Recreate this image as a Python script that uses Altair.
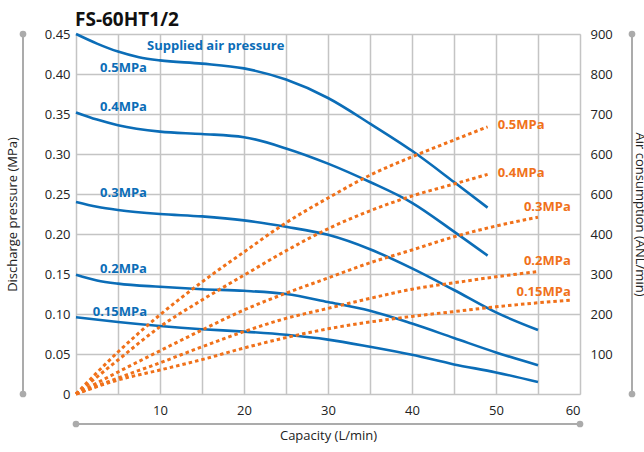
import altair as alt
import pandas as pd

# ---------------- data ----------------
# Discharge pressure curves (left axis, MPa) per supplied air pressure
b05_x = [0, 2.5, 5, 7.5, 10, 15, 20, 25, 30, 35, 40, 45, 49]
b05_y = [0.450, 0.438, 0.428, 0.421, 0.417, 0.413, 0.407, 0.393, 0.370, 0.338, 0.304, 0.265, 0.233]
b04_x = [0, 2.5, 5, 10, 15, 20, 25, 30, 35, 40, 45, 49]
b04_y = [0.352, 0.343, 0.336, 0.328, 0.325, 0.321, 0.307, 0.288, 0.265, 0.239, 0.203, 0.173]
b03_x = [0, 2.5, 5, 10, 15, 20, 25, 30, 35, 40, 45, 50, 55]
b03_y = [0.240, 0.234, 0.230, 0.225, 0.222, 0.217, 0.209, 0.199, 0.181, 0.157, 0.130, 0.102, 0.080]
b02_x = [0, 2.5, 5, 10, 15, 20, 25, 30, 35, 40, 45, 50, 55]
b02_y = [0.149, 0.142, 0.138, 0.134, 0.131, 0.129, 0.125, 0.115, 0.104, 0.088, 0.070, 0.052, 0.036]
b015_x = [0, 5, 10, 15, 20, 25, 30, 35, 40, 45, 50, 55]
b015_y = [0.096, 0.090, 0.085, 0.081, 0.078, 0.074, 0.068, 0.059, 0.049, 0.037, 0.027, 0.015]

# Air consumption curves (right axis, ANL/min)
o05_x = [0, 5, 10, 15, 20, 25, 30, 35, 40, 45, 49]
o05_y = [0, 105, 198, 280, 355, 428, 490, 547, 593, 635, 668]
o04_x = [0, 5, 10, 15, 20, 25, 30, 35, 40, 45, 49]
o04_y = [0, 85, 168, 235, 297, 358, 413, 458, 495, 525, 549]
o03_x = [0, 5, 10, 15, 20, 25, 30, 35, 40, 45, 50, 55]
o03_y = [0, 55, 108, 160, 210, 252, 290, 328, 360, 393, 420, 442]
o02_x = [0, 5, 10, 15, 20, 25, 30, 35, 40, 45, 50, 55]
o02_y = [0, 40, 78, 118, 156, 189, 214, 239, 262, 278, 293, 306]
o015_x = [0, 5, 10, 15, 20, 25, 30, 35, 40, 45, 50, 55, 59]
o015_y = [0, 35, 60, 86, 115, 141, 163, 180, 194, 206, 218, 228, 235]

blue_labels = ["0.5MPa", "0.4MPa", "0.3MPa", "0.2MPa", "0.15MPa"]
blue_label_x = [8.45, 8.45, 8.45, 8.45, 8.45]
blue_label_y = [0.4075, 0.359, 0.251, 0.156, 0.1025]

orange_labels = ["0.5MPa", "0.4MPa", "0.3MPa", "0.2MPa", "0.15MPa"]
orange_label_x = [50.2, 50.2, 58.9, 58.9, 58.9]
orange_label_y = [672, 553, 468, 332, 254]
orange_label_align = ["left", "left", "right", "right", "right"]

x_grid_values = [0, 5, 10, 15, 20, 25, 30, 35, 40, 45, 50, 55, 60]
y_left_values = [0, 0.05, 0.10, 0.15, 0.20, 0.25, 0.30, 0.35, 0.40, 0.45]
y_right_values = [100, 200, 300, 400, 500, 600, 700, 800, 900]

TITLE = "FS-60HT1/2"
FONT = "Open Sans"
BLUE = "#0b6db7"
ORANGE = "#f0711a"
GRID = "#c4c4c4"
DECO = "#ababab"

# ---------------- frames ----------------
def long(series):
    rows = []
    for name, xs, ys in series:
        for a, b in zip(xs, ys):
            rows.append({"series": name, "x": a, "y": b})
    return pd.DataFrame(rows)

blue_df = long([("0.5", b05_x, b05_y), ("0.4", b04_x, b04_y), ("0.3", b03_x, b03_y),
                ("0.2", b02_x, b02_y), ("0.15", b015_x, b015_y)])
orange_df = long([("0.5", o05_x, o05_y), ("0.4", o04_x, o04_y), ("0.3", o03_x, o03_y),
                  ("0.2", o02_x, o02_y), ("0.15", o015_x, o015_y)])
blab_df = pd.DataFrame({"x": blue_label_x, "y": blue_label_y, "t": blue_labels})
olab_df = pd.DataFrame({"x": orange_label_x, "y": orange_label_y, "t": orange_labels,
                        "a": orange_label_align})
sup_df = pd.DataFrame({"x": [8.45], "y": [0.435], "t": ["Supplied air pressure"]})

xscale = alt.Scale(domain=[0, 60], nice=False, zero=False)
yl_scale = alt.Scale(domain=[0, 0.45], nice=False)
yr_scale = alt.Scale(domain=[0, 900], nice=False)

common = dict(labelFontSize=13, titleFontSize=13, labelFont=FONT, titleFont=FONT,
              labelColor="#222", titleColor="#222", titleFontWeight="normal",
              labelOverlap=False, labelBound=False, ticks=False, domain=False)

x_axis = alt.Axis(values=x_grid_values, title="Capacity (L/min)",
                  labelExpr="datum.value % 10 == 0 && datum.value > 0 ? datum.label : ''",
                  grid=True, gridColor=GRID, gridWidth=1.5,
                  labelPadding=10, titlePadding=12, **common)

yl_axis = alt.Axis(values=y_left_values, title="Discharge pressure (MPa)",
                   labelExpr="datum.value == 0 ? '0' : format(datum.value, '.2f')",
                   grid=True, gridColor=GRID, gridWidth=1.5,
                   labelPadding=6, titlePadding=25, **common)

yr_axis = alt.Axis(values=y_right_values, title="Air consumption (ANL/min)", orient="right",
                   labelExpr="datum.value == 500 ? '600' : format(datum.value, 'd')",
                   grid=False, labelPadding=10, titlePadding=20, **common)

blue = alt.Chart(blue_df).mark_line(color=BLUE, strokeWidth=2.6, interpolate="monotone").encode(
    x=alt.X("x:Q", scale=xscale, axis=x_axis),
    y=alt.Y("y:Q", scale=yl_scale, axis=yl_axis),
    detail="series:N",
)
blue_text = alt.Chart(blab_df).mark_text(color=BLUE, font=FONT, fontSize=13, fontWeight="bold",
                                         align="right", baseline="middle").encode(
    x=alt.X("x:Q", scale=xscale, axis=x_axis), y=alt.Y("y:Q", scale=yl_scale, axis=yl_axis), text="t:N")
sup_text = alt.Chart(sup_df).mark_text(color=BLUE, font=FONT, fontSize=13, fontWeight="bold",
                                       align="left", baseline="middle").encode(
    x=alt.X("x:Q", scale=xscale, axis=x_axis), y=alt.Y("y:Q", scale=yl_scale, axis=yl_axis), text="t:N")

orange = alt.Chart(orange_df).mark_line(color=ORANGE, strokeWidth=3, strokeDash=[3.5, 3],
                                         interpolate="monotone").encode(
    x=alt.X("x:Q", scale=xscale, axis=x_axis),
    y=alt.Y("y:Q", scale=yr_scale, axis=yr_axis),
    detail="series:N",
)
olab_left = alt.Chart(olab_df).transform_filter("datum.a == 'left'").mark_text(
    color=ORANGE, font=FONT, fontSize=13, fontWeight="bold", align="left", baseline="middle").encode(
    x=alt.X("x:Q", scale=xscale, axis=x_axis), y=alt.Y("y:Q", scale=yr_scale, axis=yr_axis), text="t:N")
olab_right = alt.Chart(olab_df).transform_filter("datum.a == 'right'").mark_text(
    color=ORANGE, font=FONT, fontSize=13, fontWeight="bold", align="right", baseline="middle").encode(
    x=alt.X("x:Q", scale=xscale, axis=x_axis), y=alt.Y("y:Q", scale=yr_scale, axis=yr_axis), text="t:N")

left_layer = alt.layer(blue, blue_text, sup_text)
right_layer = alt.layer(orange, olab_left, olab_right)

# decorative guide lines with end dots, and the chart title
deco_df = pd.DataFrame({"k": [0]})
base = alt.Chart(deco_df)
title_df = pd.DataFrame({"t": [TITLE]})
deco = alt.layer(
    base.mark_rule(color=DECO, strokeWidth=2).encode(x=alt.value(-53), y=alt.value(0), y2=alt.value(360)),
    base.mark_rule(color=DECO, strokeWidth=2).encode(x=alt.value(0), x2=alt.value(504), y=alt.value(390)),
    base.mark_rule(color=DECO, strokeWidth=2).encode(x=alt.value(556), y=alt.value(0), y2=alt.value(360)),
    base.mark_circle(color=DECO, size=45, opacity=1).encode(x=alt.value(-53), y=alt.value(0)),
    base.mark_circle(color=DECO, size=45, opacity=1).encode(x=alt.value(-53), y=alt.value(360)),
    base.mark_circle(color=DECO, size=45, opacity=1).encode(x=alt.value(0), y=alt.value(390)),
    base.mark_circle(color=DECO, size=45, opacity=1).encode(x=alt.value(504), y=alt.value(390)),
    base.mark_circle(color=DECO, size=45, opacity=1).encode(x=alt.value(556), y=alt.value(0)),
    base.mark_circle(color=DECO, size=45, opacity=1).encode(x=alt.value(556), y=alt.value(360)),
    alt.Chart(title_df).mark_text(font=FONT, fontSize=19, fontWeight="bold", color="#111",
                                  align="left", baseline="alphabetic").encode(
        x=alt.value(-1), y=alt.value(-8), text="t:N"),
)

chart = alt.layer(left_layer, right_layer, deco).resolve_scale(y="independent").properties(
    width=504, height=360,
    autosize=alt.AutoSizeParams(type="none"),
    padding={"left": 76, "top": 34, "right": 64, "bottom": 58},
).configure_view(stroke="#9a9a9a", strokeWidth=2.5).configure(background="white")

chart.save("out.html", embed_options={"renderer": "svg", "actions": False})
